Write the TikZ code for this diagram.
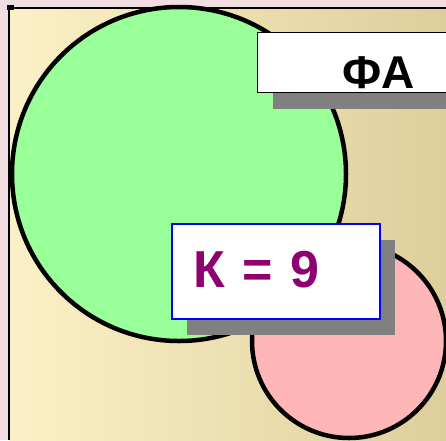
\documentclass[tikz,border=0pt]{standalone}
\usepackage{fontspec}
\setmainfont{Liberation Sans}
\usetikzlibrary{shadows}
\definecolor{bgpink}{RGB}{242,222,224}
\definecolor{sandlight}{RGB}{251,241,198}
\definecolor{sanddark}{RGB}{222,206,156}
\definecolor{leafgreen}{RGB}{153,255,153}
\definecolor{rosepink}{RGB}{255,182,182}
\definecolor{plum}{RGB}{143,0,112}
\tikzset{
  labelbox/.style={fill=white, draw=black, line width=1pt, anchor=north west,
    inner ysep=4pt, drop shadow={shadow xshift=15pt, shadow yshift=-16pt, fill=gray, opacity=1}},
  bigtext/.style={font=\bfseries\fontsize{#1}{#1}\selectfont},
}
\begin{document}
\begin{tikzpicture}[x=1pt,y=-1pt]
\useasboundingbox (0,0) rectangle (446,440);
\clip (0,0) rectangle (446,440);
% background and frame
\fill[bgpink] (0,0) rectangle (446,440);
\shade[left color=sandlight, right color=sanddark] (9,8) rectangle (446,440);
\draw[line width=2pt] (9,440) -- (9,8) -- (446,8);
\fill (7,5) rectangle (14,10);

% the two sets
\draw[fill=leafgreen, line width=4.5pt] (179,174) circle (167pt);
\draw[fill=rosepink, line width=4.5pt] (349,341) circle (97pt);

% labels
\node[labelbox, bigtext=46pt, minimum width=242pt, text height=52pt, text depth=0pt] (fa) at (257,32) {ФА};
\node[labelbox, draw=blue, line width=1.5pt, text=plum, bigtext=52pt,
  text width=164pt, align=left, inner xsep=22pt, text height=60pt, text depth=27pt] (k) at (171,223) {К = 9};
\end{tikzpicture}
\end{document}
